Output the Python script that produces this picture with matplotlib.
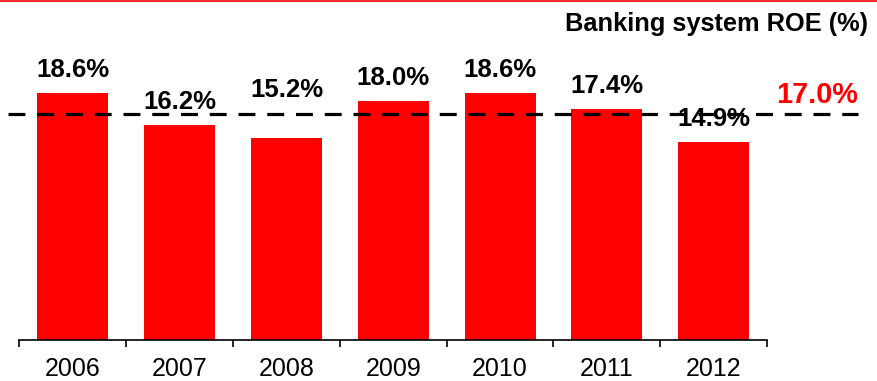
import matplotlib.pyplot as plt
from matplotlib.lines import Line2D

plt.rcParams['font.family'] = ['Liberation Sans', 'DejaVu Sans']

years = ['2006', '2007', '2008', '2009', '2010', '2011', '2012']
roe = [18.6, 16.2, 15.2, 18.0, 18.6, 17.4, 14.9]
average = 17.0

fig = plt.figure(figsize=(8.78, 3.81), dpi=100)
ax = fig.add_axes([19.5 / 878, 41 / 381, (767 - 19.5) / 878, 340 / 381])

x = range(len(years))
ax.bar(x, roe, width=0.665, color='#ff0000', zorder=2)
# 2008 label sits higher so it clears the dashed line
lift = {2: 18}
for xi, v in zip(x, roe):
    ax.annotate(f'{v:.1f}%', (xi, v), xytext=(0, 11.5 + lift.get(xi, 0)),
                textcoords='offset points', ha='center', va='baseline',
                fontsize=18.5, fontweight='bold', zorder=3)

# average line, running a bit past both ends of the axis
ax.plot([-0.61, 7.35], [average, average], color='black', lw=2.3,
        dashes=(5.3, 3.7), clip_on=False, zorder=4)
ax.text(7.35, average + 0.83, f'{average:.1f}%', color='#ff0000', ha='right',
        va='baseline', fontsize=20.8, fontweight='bold')

ax.set_xlim(-0.5, 6.5)
ax.set_ylim(0, 25.6)
for s in ['top', 'right', 'left']:
    ax.spines[s].set_visible(False)
ax.spines['bottom'].set_linewidth(1.2)
ax.set_yticks([])
ax.set_xticks([i - 0.5 for i in range(len(years) + 1)])
ax.set_xticklabels([])
ax.set_xticks(list(x), minor=True)
ax.set_xticklabels(years, minor=True, fontsize=18)
ax.tick_params(axis='x', which='major', direction='out', length=5, width=1.2)
ax.tick_params(axis='x', which='minor', length=0, pad=12)

fig.text(868 / 878, 1 - 24 / 381, 'Banking system ROE (%)', ha='right', va='center',
         fontsize=18.3, fontweight='bold')
fig.add_artist(Line2D([0, 1], [1 - 1 / 381, 1 - 1 / 381], color='#ff0000', lw=1.2))

fig.savefig('out.png', dpi=100)
